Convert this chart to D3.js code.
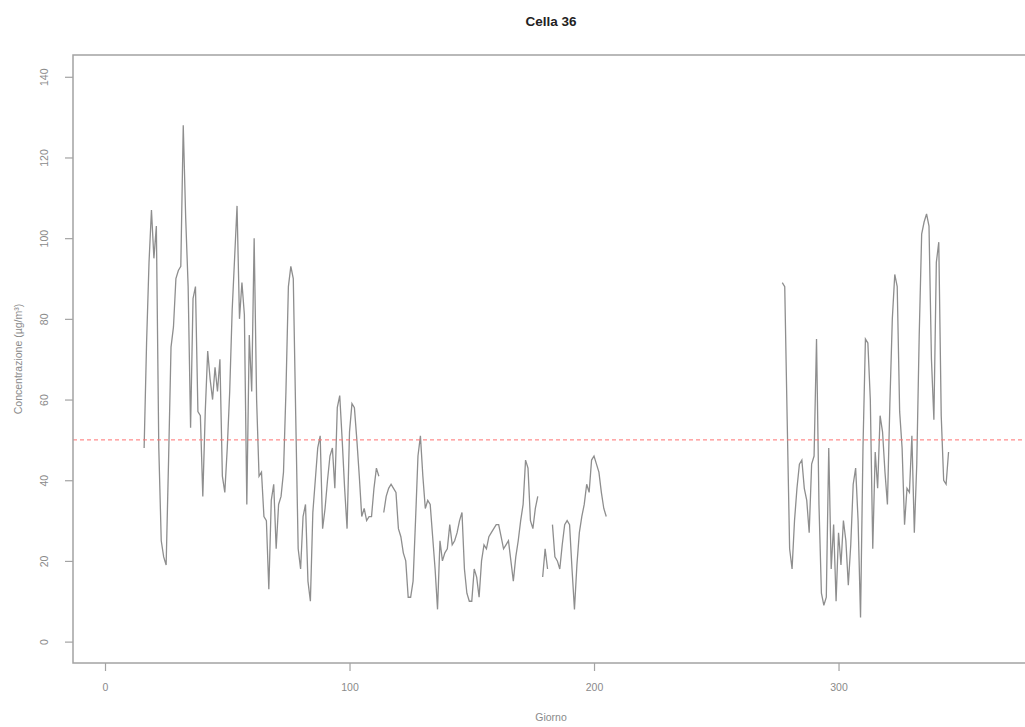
<!DOCTYPE html>
<html>
<head>
<meta charset="utf-8">
<script src="https://cdn.jsdelivr.net/npm/d3@7"></script>
<style>
  html, body { margin: 0; padding: 0; background: #fff; }
  svg { display: block; font-family: "Liberation Sans", Arial, sans-serif; }
</style>
</head>
<body>
<svg id="chart" width="1025" height="727"></svg>
<script>
// Daily concentration, first monitoring period (days 16-205); null = missing day
const firstStart = 16;
const firstValues = [
  48, 74, 94, 107, 95, 103, 48, 25, 21, 19,
  45, 73, 78, 90, 92, 93, 128, 105, 88, 53,
  85, 88, 57, 56, 36, 57, 72, 65, 60, 68,
  62, 70, 41, 37, 48, 62, 82, 95, 108, 80,
  89, 81, 34, 76, 62, 100, 60, 41, 42, 31,
  30, 13, 35, 39, 23, 34, 36, 42, 62, 88,
  93, 90, 56, 23, 18, 31, 34, 15, 10, 32,
  40, 48, 51, 28, 33, 40, 46, 48, 38, 58,
  61, 50, 38, 28, 52, 59, 58, 50, 41, 31,
  33, 30, 31, 31, 38, 43, 41, null, 32, 36,
  38, 39, 38, 37, 28, 26, 22, 20, 11, 11,
  15, 30, 46, 51, 41, 33, 35, 34, 26, 18,
  8, 25, 20, 22, 23, 29, 24, 25, 27, 30,
  32, 18, 12, 10, 10, 18, 16, 11, 20, 24,
  23, 26, 27, 28, 29, 29, 26, 23, 24, 25,
  20, 15, 21, 25, 30, 34, 45, 43, 30, 28,
  33, 36, null, 16, 23, 18, null, 29, 21, 20,
  18, 24, 29, 30, 29, 18, 8, 19, 27, 31,
  34, 39, 37, 45, 46, 44, 42, 37, 33, 31
];

// Daily concentration, second monitoring period (days 277-345)
const secondStart = 277;
const secondValues = [
  89, 88, 55, 23, 18, 30, 38, 44, 45, 38,
  35, 27, 44, 46, 75, 34, 12, 9, 11, 48,
  18, 29, 10, 27, 19, 30, 25, 14, 24, 39,
  43, 30, 6, 48, 75, 74, 60, 23, 47, 38,
  56, 52, 42, 34, 59, 80, 91, 88, 57, 48,
  29, 38, 37, 51, 27, 44, 76, 101, 104, 106,
  103, 70, 55, 94, 99, 56, 40, 39, 47
];

const xTicks = [0, 100, 200, 300];
const yTicks = [0, 20, 40, 60, 80, 100, 120, 140];
const limitValue = 50;

const titleText = "Cella 36";
const xLabel = "Giorno";
const yLabel = "Concentrazione (\u00b5g/m\u00b3)";

// Build point lists (day, value) from the two periods
const series = [
  ...firstValues.map((v, i) => ({ day: firstStart + i, value: v })),
  { day: null, value: null },
  ...secondValues.map((v, i) => ({ day: secondStart + i, value: v }))
];

const svg = d3.select("#chart");
const plot = { left: 73, right: 1029, top: 55, bottom: 663 };

const x = d3.scaleLinear().domain([-13.09, 377.9]).range([plot.left, plot.right]);
const y = d3.scaleLinear().domain([-5.3, 145.4]).range([plot.bottom, plot.top]);

const axisGrey = "#a3a3a3";
const textGrey = "#8a8a8a";

// Concentration line
const line = d3.line()
  .defined(d => d.value !== null && d.day !== null)
  .x(d => x(d.day))
  .y(d => y(d.value));

svg.append("path")
  .datum(series)
  .attr("d", line)
  .attr("fill", "none")
  .attr("stroke", "#8e8e8e")
  .attr("stroke-width", 1.3)
  .attr("stroke-linejoin", "miter");

// Limit line at 50
svg.append("line")
  .attr("x1", plot.left).attr("x2", plot.right)
  .attr("y1", y(limitValue)).attr("y2", y(limitValue))
  .attr("stroke", "#ff7070")
  .attr("stroke-width", 1)
  .attr("stroke-dasharray", "4,3");

// Plot frame
svg.append("rect")
  .attr("x", plot.left).attr("y", plot.top)
  .attr("width", plot.right - plot.left)
  .attr("height", plot.bottom - plot.top)
  .attr("fill", "none")
  .attr("stroke", axisGrey)
  .attr("stroke-width", 1.5);

// X axis
const xAxis = svg.append("g")
  .attr("transform", `translate(0,${plot.bottom})`)
  .call(d3.axisBottom(x).tickValues(xTicks).tickSize(8).tickPadding(13).tickFormat(d3.format("d")));
xAxis.select(".domain").remove();
xAxis.selectAll(".tick line").attr("stroke", axisGrey).attr("stroke-width", 1.2);
xAxis.selectAll(".tick text")
  .attr("fill", textGrey)
  .style("font-size", "10.5px")
  .style("font-family", "'Liberation Sans', Arial, sans-serif");

// Y axis
const yAxis = svg.append("g")
  .attr("transform", `translate(${plot.left},0)`)
  .call(d3.axisLeft(y).tickValues(yTicks).tickSize(8).tickFormat(d3.format("d")));
yAxis.select(".domain").remove();
yAxis.selectAll(".tick line").attr("stroke", axisGrey).attr("stroke-width", 1.2);
yAxis.selectAll(".tick text")
  .attr("fill", textGrey)
  .attr("x", null).attr("dy", null)
  .attr("text-anchor", "middle")
  .attr("transform", "translate(-29,0) rotate(-90)")
  .attr("y", 0)
  .attr("dominant-baseline", "central")
  .style("font-size", "10.5px")
  .style("font-family", "'Liberation Sans', Arial, sans-serif");

// Title
svg.append("text")
  .attr("x", (plot.left + plot.right) / 2)
  .attr("y", 26)
  .attr("text-anchor", "middle")
  .attr("fill", "#222")
  .style("font-size", "13.5px")
  .style("font-weight", "bold")
  .text(titleText);

// Axis titles
svg.append("text")
  .attr("x", (plot.left + plot.right) / 2)
  .attr("y", 721)
  .attr("text-anchor", "middle")
  .attr("fill", textGrey)
  .style("font-size", "10.5px")
  .text(xLabel);

svg.append("text")
  .attr("transform", `translate(18,${(plot.top + plot.bottom) / 2}) rotate(-90)`)
  .attr("text-anchor", "middle")
  .attr("dominant-baseline", "central")
  .attr("fill", textGrey)
  .style("font-size", "10.5px")
  .text(yLabel);
</script>
</body>
</html>
